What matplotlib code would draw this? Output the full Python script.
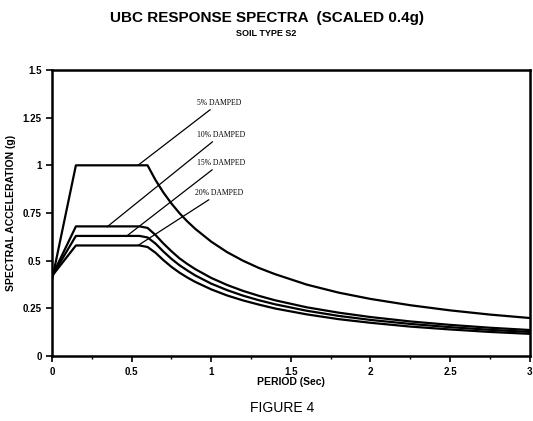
import matplotlib
matplotlib.use("Agg")
import matplotlib.pyplot as plt
from matplotlib.ticker import MultipleLocator

plt.rcParams["font.family"] = ["Liberation Sans", "DejaVu Sans"]

# period (sec) and spectral acceleration (g)
period = [0, 0.15, 0.55, 0.6, 0.65, 0.7, 0.75, 0.8, 0.85, 0.9, 1.0, 1.1,
          1.2, 1.3, 1.4, 1.6, 1.8, 2.0, 2.25, 2.5, 2.75, 3.0]
sa_5 = [0.40, 1.00, 1.00, 1.00, 0.923, 0.857, 0.80, 0.75, 0.706, 0.667,
        0.60, 0.545, 0.50, 0.462, 0.43, 0.375, 0.333, 0.30, 0.267, 0.24,
        0.218, 0.20]
sa_10 = [0.42, 0.68, 0.68, 0.672, 0.635, 0.59, 0.55, 0.513, 0.483, 0.456,
         0.41, 0.373, 0.342, 0.316, 0.293, 0.256, 0.228, 0.205, 0.182,
         0.164, 0.149, 0.137]
sa_15 = [0.42, 0.63, 0.63, 0.622, 0.59, 0.548, 0.51, 0.477, 0.449, 0.423,
         0.38, 0.346, 0.317, 0.293, 0.272, 0.238, 0.211, 0.19, 0.169,
         0.152, 0.138, 0.127]
sa_20 = [0.42, 0.58, 0.58, 0.572, 0.542, 0.503, 0.468, 0.438, 0.412, 0.389,
         0.35, 0.318, 0.292, 0.27, 0.25, 0.219, 0.194, 0.175, 0.155, 0.14,
         0.127, 0.117]

labels = ["5% DAMPED", "10% DAMPED", "15% DAMPED", "20% DAMPED"]
# where each leader line touches its curve, and where its label sits
tips = [(0.54, 1.0), (0.345, 0.677), (0.47, 0.63), (0.54, 0.58)]
label_pos = [(0.91, 1.327), (0.91, 1.159), (0.91, 1.012), (0.90, 0.855)]

xticks = [0, 0.5, 1, 1.5, 2, 2.5, 3]
xticklabels = ["0", "0.5", "1", "1.5", "2", "2.5", "3"]
yticks = [0, 0.25, 0.5, 0.75, 1, 1.25, 1.5]
yticklabels = ["0", "0.25", "0.5", "0.75", "1", "1.25", "1.5"]

fig = plt.figure(figsize=(5.33, 4.21), dpi=100)
ax = fig.add_axes([0.0976, 0.154, 0.896, 0.68])

for sa in (sa_5, sa_10, sa_15, sa_20):
    ax.plot(period, sa, color="black", lw=1.6, solid_joinstyle="round")

for lab, tip, pos in zip(labels, tips, label_pos):
    ax.annotate(lab, xy=tip, xytext=pos, fontsize=5.5,
                family=["Liberation Serif", "DejaVu Serif"],
                ha="left", va="center",
                arrowprops=dict(arrowstyle="-", color="black", lw=0.9,
                                shrinkA=0, shrinkB=0))

ax.set_xlim(0, 3)
ax.set_ylim(0, 1.5)
ax.set_xticks(xticks)
ax.set_xticklabels(xticklabels, fontsize=7, fontweight="bold")
ax.set_yticks(yticks)
ax.set_yticklabels(yticklabels, fontsize=7, fontweight="bold")
ax.xaxis.set_minor_locator(MultipleLocator(0.25))
ax.tick_params(which="major", length=4, width=1.2, direction="out")
ax.tick_params(which="minor", length=2.5, width=1.0, direction="out")
for s in ax.spines.values():
    s.set_linewidth(1.8)

ax.set_xlabel("PERIOD (Sec)", fontsize=7.5, fontweight="bold", labelpad=0)
ax.set_ylabel("SPECTRAL ACCELERATION (g)", fontsize=7.5, fontweight="bold",
              labelpad=5)

fig.text(0.5, 0.958, "UBC RESPONSE SPECTRA  (SCALED 0.4g)", ha="center",
         va="center", fontsize=11, fontweight="bold")
fig.text(0.5, 0.921, "SOIL TYPE S2", ha="center", va="center", fontsize=6.5,
         fontweight="bold")
fig.text(0.53, 0.03, "FIGURE 4", ha="center", va="center", fontsize=10)

fig.savefig("out.png", dpi=100)
